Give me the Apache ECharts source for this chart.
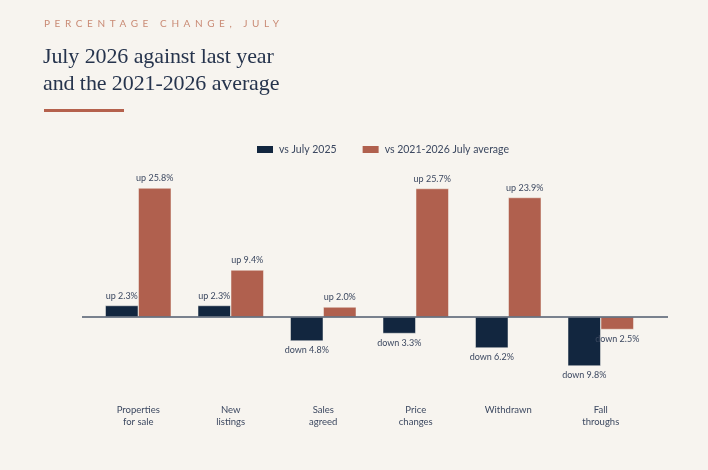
<!DOCTYPE html>
<html>
<head>
<meta charset="utf-8">
<script src="https://cdn.jsdelivr.net/npm/echarts@6/dist/echarts.min.js"></script>
<style>
	html,body{margin:0;padding:0;background:#f7f4ef;}
	.wrap{position:relative;width:708px;height:470px;overflow:hidden;}
	.kicker{position:absolute;left:44px;top:17px;font-family:"Lato",sans-serif;font-size:10px;letter-spacing:4.6px;color:#c98a74;}
	.title{position:absolute;left:43px;top:42px;font-family:"Liberation Serif",serif;font-size:22px;line-height:27px;color:#26344d;letter-spacing:-0.1px;}
	.rule{position:absolute;left:44px;top:109px;width:80px;height:3px;background:#b5614d;}
	#chart{position:absolute;left:0;top:0;width:708px;height:470px;}
</style>
</head>
<body>
<div class="wrap">
	<div id="chart"></div>
	<div class="kicker">PERCENTAGE CHANGE, JULY</div>
	<div class="title">July 2026 against last year<br>and the 2021-2026 average</div>
	<div class="rule"></div>
</div>
<script>
// 分类
var categories = ['Properties\nfor sale', 'New\nlistings', 'Sales\nagreed', 'Price\nchanges', 'Withdrawn', 'Fall\nthroughs'];
// 数据
var vsLastYear = [2.3, 2.3, -4.8, -3.3, -6.2, -9.8];
var vsAverage = [25.8, 9.4, 2.0, 25.7, 23.9, -2.5];
var seriesNames = ['vs July 2025', 'vs 2021-2026 July average'];

var navy = '#12263f';
var rust = '#b0604e';
var textColor = '#3c4860';
var font = 'Lato, sans-serif';

function labelText(p){
	var v = p.value;
	return (v < 0 ? 'down ' : 'up ') + Math.abs(v).toFixed(1) + '%';
}
function buildData(arr){
	var out = [];
	for(var i = 0; i < arr.length; i++){
		out.push({
			value: arr[i],
			label: {position: arr[i] < 0 ? 'bottom' : 'top'}
		});
	}
	return out;
}

var myChart = echarts.init(document.getElementById('chart'));
var option = {
	backgroundColor: 'transparent',
	animation: false,
	legend: {
		left: 250,
		top: 139,
		itemWidth: 18,
		itemHeight: 9,
		itemGap: 24,
		icon: 'rect',
		textStyle: {color: textColor, fontFamily: font, fontSize: 10.5},
		data: seriesNames
	},
	grid: {left: 92, right: 61, top: 177, bottom: 93},
	xAxis: {
		type: 'category',
		data: categories,
		axisLine: {show: false},
		axisTick: {show: false},
		axisLabel: {
			color: textColor,
			fontFamily: font,
			fontSize: 9.5,
			lineHeight: 12,
			margin: 27,
			verticalAlign: 'top'
		}
	},
	yAxis: {
		type: 'value',
		min: -12,
		max: 28,
		show: false
	},
	series: [{
		name: seriesNames[0],
		type: 'bar',
		barWidth: 33,
		barGap: '0%',
		itemStyle: {color: navy, borderColor: '#f7f4ef', borderWidth: 0.5},
		label: {show: true, formatter: labelText, color: textColor, fontFamily: font, fontSize: 9, distance: 5},
		data: buildData(vsLastYear)
	}, {
		name: seriesNames[1],
		type: 'bar',
		barWidth: 33,
		barGap: '0%',
		itemStyle: {color: rust, borderColor: '#f7f4ef', borderWidth: 0.5},
		label: {show: true, formatter: labelText, color: textColor, fontFamily: font, fontSize: 9, distance: 5},
		data: buildData(vsAverage)
	}]
};
myChart.setOption(option);

// 零线，位置由坐标轴换算
var zeroY = myChart.convertToPixel({yAxisIndex: 0}, 0);
myChart.setOption({
	graphic: [{
		type: 'line',
		z: 10,
		shape: {x1: 82, y1: zeroY, x2: 668, y2: zeroY},
		style: {stroke: '#4f5b6e', lineWidth: 1.3}
	}]
});
</script>
</body>
</html>
